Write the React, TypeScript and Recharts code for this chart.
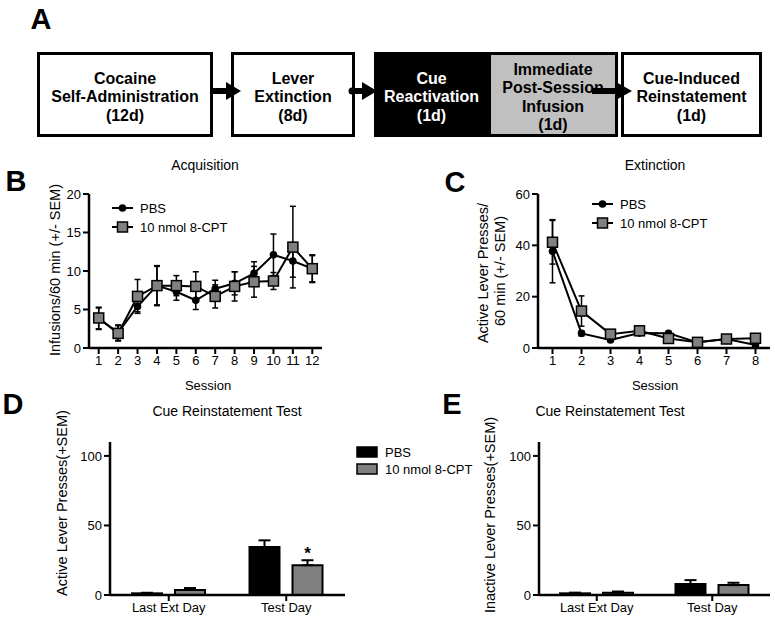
import React from "react";
import { LineChart, Line, XAxis, YAxis, ErrorBar, BarChart, Bar, LabelList } from "recharts";

const FONT = '"Liberation Sans", Arial, Helvetica, sans-serif';

// B - acquisition (infusions / 60 min)
const acqSessions = [1, 2, 3, 4, 5, 6, 7, 8, 9, 10, 11, 12];
const acqPbs = [3.8, 2.0, 5.4, 8.1, 7.3, 6.2, 7.7, 8.4, 9.7, 12.1, 11.3, 10.3];
const acqPbsSem = [1.4, 1.0, 0.7, 2.5, 1.1, 1.2, 1.1, 1.5, 1.5, 2.7, 2.1, 1.7];
const acqCpt = [3.9, 1.9, 6.7, 8.1, 8.1, 8.0, 6.7, 8.0, 8.6, 8.7, 13.1, 10.3];
const acqCptSem = [1.4, 1.0, 2.2, 2.6, 1.3, 1.9, 1.5, 1.9, 2.0, 1.1, 5.3, 1.8];

// C - extinction (active lever presses / 60 min)
const extSessions = [1, 2, 3, 4, 5, 6, 7, 8];
const extPbs = [37.7, 5.7, 3.1, 5.8, 5.7, 2.2, 3.5, 1.2];
const extPbsSem = [12.3, 1.0, 0.6, 0.8, 0.8, 0.5, 0.6, 0.5];
const extCpt = [41.2, 14.4, 5.4, 6.7, 3.7, 2.2, 3.5, 3.8];
const extCptSem = [8.5, 5.9, 0.8, 0.8, 0.8, 0.5, 0.6, 0.6];

// D / E - cue reinstatement test
const testDays = ["Last Ext Day", "Test Day"];
const activePbs = [1.2, 34.5];
const activePbsSem = [0.4, 4.8];
const activeCpt = [3.6, 21.4];
const activeCptSem = [1.4, 3.6];
const activeSig = ["", "*"];
const inactivePbs = [1.2, 7.9];
const inactivePbsSem = [0.5, 2.8];
const inactiveCpt = [1.7, 7.1];
const inactiveCptSem = [0.8, 1.7];

const seriesNames = ["PBS", "10 nmol 8-CPT"];

// A - timeline
const stepCocaine = ["Cocaine", "Self-Administration", "(12d)"];
const stepExtinction = ["Lever", "Extinction", "(8d)"];
const stepCue = ["Cue", "Reactivation", "(1d)"];
const stepInfusion = ["Immediate", "Post-Session", "Infusion", "(1d)"];
const stepReinstate = ["Cue-Induced", "Reinstatement", "(1d)"];

const acqData = acqSessions.map((s, i) => ({
  session: s, pbs: acqPbs[i], pbsSem: acqPbsSem[i], cpt: acqCpt[i], cptSem: acqCptSem[i],
}));
const extData = extSessions.map((s, i) => ({
  session: s, pbs: extPbs[i], pbsSem: extPbsSem[i], cpt: extCpt[i], cptSem: extCptSem[i],
}));
const activeData = testDays.map((d, i) => ({
  day: d, pbs: activePbs[i], pbsErr: [0, activePbsSem[i]], cpt: activeCpt[i], cptErr: [0, activeCptSem[i]], sig: activeSig[i],
}));
const inactiveData = testDays.map((d, i) => ({
  day: d, pbs: inactivePbs[i], pbsErr: [0, inactivePbsSem[i]], cpt: inactiveCpt[i], cptErr: [0, inactiveCptSem[i]],
}));

const GREY = "#808080";
const axisLine = { stroke: "#000", strokeWidth: 2.5 };
const tickLine = { stroke: "#000", strokeWidth: 2 };
const tickFont = { fill: "#000", fontSize: 13, fontFamily: FONT };

const CircleDot = (p: any) =>
  p.cx == null ? <g key={`c${p.index}`} /> : <circle key={`c${p.index}`} cx={p.cx} cy={p.cy} r={3.8} fill="#000" />;

const SquareDot = (p: any) =>
  p.cx == null ? <g key={`s${p.index}`} /> : (
    <rect key={`s${p.index}`} x={p.cx - 5} y={p.cy - 5} width={10} height={10} fill={GREY} stroke="#000" strokeWidth={1.5} />
  );

const Txt = ({ x, y, size = 14, bold = false, rot = false, color = "#000", children }: any) => (
  <div
    style={{
      position: "absolute", left: x, top: y, whiteSpace: "nowrap", lineHeight: 1,
      transform: `translate(-50%, -50%)${rot ? " rotate(-90deg)" : ""}`,
      fontSize: size, fontWeight: bold ? 700 : 400, color, fontFamily: FONT,
    }}
  >
    {children}
  </div>
);

const BOX_TOP = 52;
const BOX_H = 85;

const Box = ({ left, width, lines, bg = "#fff", color = "#000" }: any) => (
  <div
    style={{
      position: "absolute", left, top: BOX_TOP, width, height: BOX_H, boxSizing: "border-box",
      border: "3px solid #000", background: bg, color, paddingTop: 6,
      display: "flex", alignItems: "center", justifyContent: "center", textAlign: "center",
      fontWeight: 700, fontSize: 16, lineHeight: "18.5px", fontFamily: FONT,
    }}
  >
    <div style={{ whiteSpace: "nowrap" }}>
      {lines.map((l: string) => <div key={l}>{l}</div>)}
    </div>
  </div>
);

const LineLegend = ({ x, y }: any) => (
  <svg style={{ position: "absolute", left: x, top: y }} width={120} height={40}>
    <line x1={0} y1={8} x2={21} y2={8} stroke="#000" strokeWidth={2} />
    <circle cx={10.5} cy={8} r={3.8} fill="#000" />
    <text x={28} y={12.5} fontSize={13} fontFamily={FONT}>{seriesNames[0]}</text>
    <line x1={0} y1={27} x2={21} y2={27} stroke="#000" strokeWidth={2} />
    <rect x={5.5} y={22} width={10} height={10} fill={GREY} stroke="#000" strokeWidth={1.5} />
    <text x={28} y={31.5} fontSize={13} fontFamily={FONT}>{seriesNames[1]}</text>
  </svg>
);

function SessionChart({ data, sessions, yMax, yTicks, width, margin }: any) {
  return (
    <LineChart width={width} height={250} data={data} margin={margin}>
      <XAxis
        dataKey="session" type="number" domain={[0.5, sessions.length + 0.5]} ticks={sessions}
        interval={0} axisLine={axisLine} tickLine={tickLine} tick={tickFont} tickSize={6} height={30}
      />
      <YAxis
        type="number" domain={[0, yMax]} ticks={yTicks} interval={0} axisLine={axisLine}
        tickLine={tickLine} tick={tickFont} tickSize={6} width={60}
      />
      <Line dataKey="pbs" stroke="#000" strokeWidth={2} dot={CircleDot} isAnimationActive={false}>
        <ErrorBar dataKey="pbsSem" width={3} stroke="#000" strokeWidth={1.5} direction="y" />
      </Line>
      <Line dataKey="cpt" stroke="#000" strokeWidth={2} dot={SquareDot} isAnimationActive={false}>
        <ErrorBar dataKey="cptSem" width={3} stroke="#000" strokeWidth={1.5} direction="y" />
      </Line>
    </LineChart>
  );
}

function TestChart({ data, width, marginLeft, star }: any) {
  return (
    <BarChart
      width={width} height={221} data={data} barSize={30} barGap={13}
      margin={{ top: 42, right: 5, bottom: 0, left: marginLeft }}
    >
      <XAxis dataKey="day" interval={0} axisLine={axisLine} tickLine={tickLine} tick={tickFont} tickSize={6} height={26} />
      <YAxis
        type="number" domain={[0, 110]} ticks={[0, 50, 100]} interval={0} axisLine={axisLine}
        tickLine={tickLine} tick={tickFont} tickSize={6} width={60}
      />
      <Bar dataKey="pbs" fill="#000" stroke="#000" strokeWidth={2} isAnimationActive={false}>
        <ErrorBar dataKey="pbsErr" width={6} stroke="#000" strokeWidth={2} direction="y" />
      </Bar>
      <Bar dataKey="cpt" fill={GREY} stroke="#000" strokeWidth={2} isAnimationActive={false}>
        <ErrorBar dataKey="cptErr" width={6} stroke="#000" strokeWidth={2} direction="y" />
        {star && <LabelList dataKey="sig" position="top" offset={6} fill="#000" fontSize={17} fontWeight={700} fontFamily={FONT} />}
      </Bar>
    </BarChart>
  );
}

export default function App() {
  const ay = 91;
  return (
    <div style={{ position: "absolute", left: 0, top: 0, width: 775, height: 621, background: "#fff", fontFamily: FONT, overflow: "hidden" }}>
      {/* A: timeline */}
      <Txt x={41} y={19} size={29} bold>A</Txt>
      <Box left={37} width={176} lines={stepCocaine} />
      <Box left={231} width={124} lines={stepExtinction} />
      <div style={{ position: "absolute", left: 374, top: BOX_TOP, width: 244, height: BOX_H, border: "3px solid #000", boxSizing: "border-box", background: "#000" }} />
      <Box left={374} width={115} lines={stepCue} bg="#000" color="#fff" />
      <Box left={488} width={130} lines={stepInfusion} bg="#c0c0c0" />
      <Box left={621} width={141} lines={stepReinstate} />
      <svg style={{ position: "absolute", left: 0, top: 0 }} width={775} height={150}>
        <rect x={213} y={ay - 3} width={16} height={6} fill="#000" />
        <polygon points={`226,${ay - 9} 241,${ay} 226,${ay + 9}`} fill="#000" />
        <circle cx={352} cy={ay} r={3.5} fill="#000" />
        <rect x={352} y={ay - 3} width={12} height={6} fill="#000" />
        <polygon points={`362,${ay - 9} 377,${ay} 362,${ay + 9}`} fill="#000" />
        <rect x={592} y={ay - 3} width={26} height={6} fill="#000" />
        <polygon points={`616,${ay - 9} 632,${ay} 616,${ay + 9}`} fill="#000" />
      </svg>

      {/* B: acquisition */}
      <Txt x={16} y={181} size={29} bold>B</Txt>
      <Txt x={205} y={165} size={14}>Acquisition</Txt>
      <div style={{ position: "absolute", left: 0, top: 150 }}>
        <SessionChart data={acqData} sessions={acqSessions} yMax={20} yTicks={[0, 5, 10, 15, 20]} width={340}
          margin={{ top: 44, right: 18, bottom: 22, left: 29 }} />
      </div>
      <Txt x={55} y={270} size={14.5} rot>Infusions/60 min (+/- SEM)</Txt>
      <Txt x={208} y={385} size={13}>Session</Txt>
      <LineLegend x={112} y={200} />

      {/* C: extinction */}
      <Txt x={455} y={182} size={29} bold>C</Txt>
      <Txt x={655} y={165} size={14}>Extinction</Txt>
      <div style={{ position: "absolute", left: 390, top: 150 }}>
        <SessionChart data={extData} sessions={extSessions} yMax={60} yTicks={[0, 20, 40, 60]} width={385}
          margin={{ top: 44, right: 5, bottom: 22, left: 88 }} />
      </div>
      <Txt x={483} y={273} size={14.5} rot>Active Lever Presses/</Txt>
      <Txt x={500} y={271} size={14.5} rot>60 min (+/- SEM)</Txt>
      <Txt x={655} y={385} size={13}>Session</Txt>
      <LineLegend x={592} y={196} />

      {/* D: active lever presses */}
      <Txt x={13} y={404} size={29} bold>D</Txt>
      <Txt x={227} y={411} size={14}>Cue Reinstatement Test</Txt>
      <div style={{ position: "absolute", left: 0, top: 400 }}>
        <TestChart data={activeData} width={350} marginLeft={50} star />
      </div>
      <Txt x={62} y={503} size={14.5} rot>Active Lever Presses(+SEM)</Txt>
      <svg style={{ position: "absolute", left: 355, top: 444 }} width={130} height={36}>
        <rect x={2} y={3} width={20} height={10} fill="#000" stroke="#000" strokeWidth={1.5} />
        <text x={30} y={12.5} fontSize={13} fontFamily={FONT}>{seriesNames[0]}</text>
        <rect x={2} y={20} width={20} height={10} fill={GREY} stroke="#000" strokeWidth={1.5} />
        <text x={30} y={29.5} fontSize={13} fontFamily={FONT}>{seriesNames[1]}</text>
      </svg>

      {/* E: inactive lever presses */}
      <Txt x={452} y={404} size={29} bold>E</Txt>
      <Txt x={610} y={411} size={14}>Cue Reinstatement Test</Txt>
      <div style={{ position: "absolute", left: 440, top: 400 }}>
        <TestChart data={inactiveData} width={335} marginLeft={39} />
      </div>
      <Txt x={490} y={515} size={14.5} rot>Inactive Lever Presses(+SEM)</Txt>
    </div>
  );
}
